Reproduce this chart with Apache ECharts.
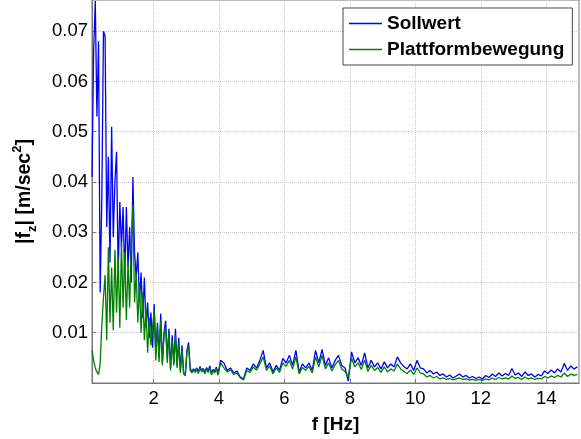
<!DOCTYPE html>
<html>
<head>
<meta charset="utf-8">
<script src="https://cdn.jsdelivr.net/npm/echarts@6/dist/echarts.min.js"></script>
<style>
  html, body { margin: 0; padding: 0; background: #fff; }
  #chart { width: 581px; height: 439px; }
</style>
</head>
<body>
<div id="chart"></div>
<script>
// FFT bins: fine grid below 4 Hz, coarser above
var lowStart = 0.12, lowStep = 0.05;
var highStart = 4.05, highStep = 0.1;

// Sollwert (blue), 0.12 .. 3.97 Hz
var sollLow = [
  0.041, 0.066, 0.076, 0.053, 0.068, 0.018, 0.037, 0.070, 0.069, 0.031,
  0.045, 0.024, 0.051, 0.029, 0.040, 0.046, 0.022, 0.036, 0.027, 0.035,
  0.021, 0.035, 0.023, 0.031, 0.020, 0.041, 0.026, 0.021, 0.026, 0.016,
  0.022, 0.013, 0.021, 0.011, 0.016, 0.009, 0.014, 0.007, 0.0157, 0.006,
  0.012, 0.005, 0.0138, 0.004, 0.010, 0.0124, 0.005, 0.0108, 0.003, 0.0095,
  0.004, 0.0108, 0.0035, 0.009, 0.0025, 0.0075, 0.002, 0.0016, 0.0065, 0.0081,
  0.003, 0.0022, 0.0028, 0.0024, 0.003, 0.0022, 0.0033, 0.0025, 0.0029, 0.0021,
  0.0031, 0.0024, 0.0034, 0.0019, 0.0027, 0.0023, 0.0032, 0.0018
];
// Plattformbewegung (green), 0.12 .. 3.97 Hz
var plattLow = [
  0.0065, 0.0045, 0.0030, 0.0022, 0.0017, 0.0040, 0.0115, 0.0170, 0.0215, 0.0085,
  0.0270, 0.0120, 0.0230, 0.0105, 0.0265, 0.0140, 0.0250, 0.0110, 0.0280, 0.0150,
  0.0260, 0.0125, 0.0240, 0.0150, 0.0280, 0.0355, 0.0160, 0.0220, 0.0120, 0.0200,
  0.0100, 0.0180, 0.0085, 0.0150, 0.0060, 0.0130, 0.0075, 0.0110, 0.0145, 0.0045,
  0.0115, 0.0042, 0.0125, 0.0035, 0.0095, 0.0110, 0.0040, 0.0100, 0.0025, 0.0085,
  0.0035, 0.0095, 0.0030, 0.0080, 0.0020, 0.0065, 0.0018, 0.0014, 0.0060, 0.0075,
  0.0025, 0.0020, 0.0025, 0.0021, 0.0027, 0.0019, 0.0030, 0.0022, 0.0026, 0.0018,
  0.0028, 0.0021, 0.0030, 0.0016, 0.0024, 0.0020, 0.0029, 0.0015
];
// Sollwert, 4.05 .. 14.95 Hz
var sollHigh = [
  0.0045, 0.0040, 0.0025, 0.0030, 0.0020, 0.0024, 0.0012, 0.0008, 0.0030, 0.0025,
  0.0038, 0.0030, 0.0045, 0.0065, 0.0030, 0.0040, 0.0022, 0.0035, 0.0025, 0.0049,
  0.0040, 0.0055, 0.0035, 0.0065, 0.0022, 0.0038, 0.0030, 0.0040, 0.0025, 0.0065,
  0.0040, 0.0067, 0.0035, 0.0050, 0.0030, 0.0045, 0.0055, 0.0035, 0.0030, 0.0004,
  0.0062, 0.0040, 0.0050, 0.0035, 0.0060, 0.0030, 0.0045, 0.0032, 0.0040, 0.0028,
  0.0042, 0.0030, 0.0038, 0.0032, 0.0052, 0.0040, 0.0033, 0.0028, 0.0038, 0.0025,
  0.0045, 0.0030, 0.0028, 0.0020, 0.0025, 0.0018, 0.0022, 0.0015, 0.0018, 0.0012,
  0.0016, 0.0010, 0.0014, 0.0018, 0.0012, 0.0015, 0.0010, 0.0013, 0.0009, 0.0012,
  0.0008, 0.0015, 0.0011, 0.0018, 0.0013, 0.0020, 0.0014, 0.0019, 0.0015, 0.0029,
  0.0016, 0.0020, 0.0013, 0.0022, 0.0015, 0.0018, 0.0012, 0.0017, 0.0014, 0.0024,
  0.0019, 0.0026, 0.0020, 0.0028, 0.0022, 0.0039, 0.0025, 0.0034, 0.0028, 0.0032
];
// Plattformbewegung, 4.05 .. 14.95 Hz
var plattHigh = [
  0.0040, 0.0030, 0.0022, 0.0026, 0.0017, 0.0020, 0.0010, 0.0006, 0.0025, 0.0021,
  0.0032, 0.0026, 0.0038, 0.0052, 0.0025, 0.0034, 0.0018, 0.0030, 0.0021, 0.0040,
  0.0033, 0.0045, 0.0028, 0.0052, 0.0018, 0.0031, 0.0025, 0.0033, 0.0020, 0.0052,
  0.0032, 0.0055, 0.0028, 0.0040, 0.0024, 0.0036, 0.0045, 0.0028, 0.0023, 0.0012,
  0.0050, 0.0032, 0.0040, 0.0027, 0.0046, 0.0023, 0.0035, 0.0025, 0.0031, 0.0021,
  0.0032, 0.0022, 0.0028, 0.0024, 0.0038, 0.0028, 0.0023, 0.0019, 0.0026, 0.0017,
  0.0030, 0.0020, 0.0018, 0.0012, 0.0015, 0.0010, 0.0013, 0.0008, 0.0010, 0.0007,
  0.0009, 0.0006, 0.0008, 0.0010, 0.0007, 0.0008, 0.0006, 0.0007, 0.0005, 0.0007,
  0.0005, 0.0008, 0.0006, 0.0010, 0.0007, 0.0011, 0.0008, 0.0010, 0.0008, 0.0014,
  0.0009, 0.0011, 0.0007, 0.0012, 0.0008, 0.0010, 0.0007, 0.0009, 0.0008, 0.0013,
  0.0010, 0.0014, 0.0011, 0.0015, 0.0012, 0.0020, 0.0013, 0.0018, 0.0015, 0.0017
];

var xTicks = [2, 4, 6, 8, 10, 12, 14];
var yTicks = [0.01, 0.02, 0.03, 0.04, 0.05, 0.06, 0.07];

function toPairs(low, high) {
  var out = [];
  for (var i = 0; i < low.length; i++) {
    out.push([+(lowStart + i * lowStep).toFixed(3), low[i]]);
  }
  for (var j = 0; j < high.length; j++) {
    out.push([+(highStart + j * highStep).toFixed(3), high[j]]);
  }
  return out;
}

var gridColor = '#c8c8c8';
var axisColor = '#777';
var font = 'Liberation Sans, Arial, sans-serif';

var myChart = echarts.init(document.getElementById('chart'));
var option = {
  animation: false,
  grid: {
    left: 92, right: 2, top: 0, bottom: 51,
    show: true, borderColor: axisColor, borderWidth: 1, backgroundColor: '#fff'
  },
  legend: {
    orient: 'vertical',
    left: 343, top: 8,
    padding: [6, 8, 6, 6],
    itemGap: 7,
    itemWidth: 33,
    itemHeight: 1.5,
    icon: 'rect',
    backgroundColor: '#fff',
    borderColor: '#444',
    borderWidth: 1,
    borderRadius: 0,
    textStyle: { fontFamily: font, fontSize: 19, fontWeight: 'bold', color: '#000', lineHeight: 19 },
    data: ['Sollwert', 'Plattformbewegung']
  },
  xAxis: {
    type: 'value',
    min: 0.12,
    max: 15,
    name: 'f [Hz]',
    nameLocation: 'middle',
    nameGap: 32,
    nameTextStyle: { fontFamily: font, fontSize: 19, fontWeight: 'bold', color: '#000' },
    axisLine: { lineStyle: { color: axisColor } },
    axisTick: { inside: true, length: 4, customValues: xTicks, lineStyle: { color: axisColor } },
    axisLabel: { customValues: xTicks, fontFamily: font, fontSize: 18.5, color: '#000', margin: 6 },
    splitLine: { show: true, lineStyle: { type: 'dotted', color: gridColor } }
  },
  yAxis: {
    type: 'value',
    min: 0,
    max: 0.0762,
    name: '{n||f}{s|z}{n|| [m/sec}{p|2}{n|]}',
    nameLocation: 'middle',
    nameRotate: 90,
    nameGap: 53,
    nameTextStyle: {
      rich: {
        n: { fontFamily: font, fontSize: 19.5, fontWeight: 'bold', color: '#000', lineHeight: 28, verticalAlign: 'middle' },
        s: { fontFamily: font, fontSize: 13, fontWeight: 'bold', color: '#000', lineHeight: 28, verticalAlign: 'bottom' },
        p: { fontFamily: font, fontSize: 13, fontWeight: 'bold', color: '#000', lineHeight: 28, verticalAlign: 'top' }
      }
    },
    axisLine: { show: true, lineStyle: { color: axisColor } },
    axisTick: { inside: true, length: 4, customValues: yTicks, lineStyle: { color: axisColor } },
    axisLabel: {
      customValues: yTicks,
      fontFamily: font, fontSize: 18.5, color: '#000', margin: 4,
      formatter: function (v) { return v.toFixed(2); }
    },
    splitLine: { show: true, lineStyle: { type: 'dotted', color: gridColor } }
  },
  series: [
    {
      name: 'Sollwert',
      type: 'line',
      symbol: 'none',
      color: '#0000ff',
      lineStyle: { width: 1.3, color: '#0000ff' },
      data: toPairs(sollLow, sollHigh)
    },
    {
      name: 'Plattformbewegung',
      type: 'line',
      symbol: 'none',
      color: '#008000',
      lineStyle: { width: 1.3, color: '#008000' },
      data: toPairs(plattLow, plattHigh)
    }
  ]
};
myChart.setOption(option);
</script>
</body>
</html>
